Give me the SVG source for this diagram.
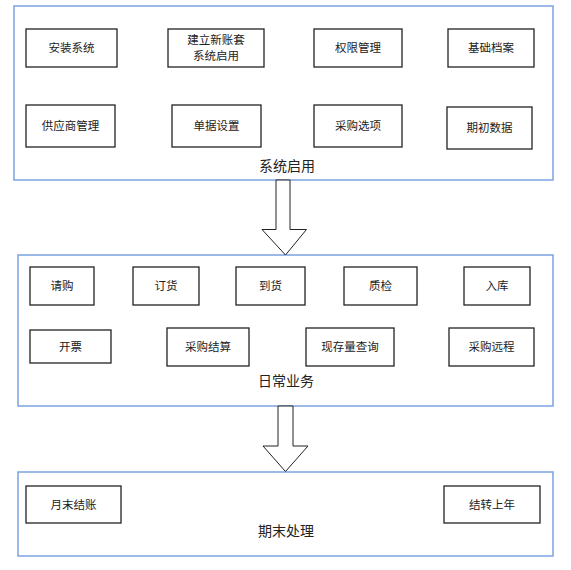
<svg xmlns="http://www.w3.org/2000/svg" width="571" height="570" viewBox="0 0 571 570">
<style>
.panel{fill:#fff;stroke:#7ba3e0;stroke-width:1.5}
.box{fill:#fff;stroke:#222;stroke-width:1.3}
.t{font-family:"Noto Sans CJK SC","Liberation Serif",sans-serif;font-size:11.5px;fill:#222;text-anchor:middle}
.lbl{font-family:"Noto Sans CJK SC","Liberation Serif",sans-serif;font-size:14px;fill:#222;text-anchor:middle}
.arrow{fill:#fff;stroke:#222;stroke-width:1}
</style>
<rect width="571" height="570" fill="#fff"/>
<g id="panel-startup">
<rect class="panel" x="14" y="6" width="539" height="174"/>
<text class="lbl" x="287" y="171">系统启用</text>
</g>
<g id="panel-daily">
<rect class="panel" x="18" y="255" width="535" height="151"/>
<text class="lbl" x="286" y="386">日常业务</text>
</g>
<g id="panel-end">
<rect class="panel" x="18" y="472" width="535" height="84"/>
<text class="lbl" x="286" y="536">期末处理</text>
</g>
<g id="connectors">
<polygon class="arrow" points="276,180 290,180 290,229.5 306.5,229.5 285.5,255 262,229.5 276,229.5"/>
<polygon class="arrow" points="278,406 293,406 293,446 308,446 285.5,471.5 263,446 278,446"/>
</g>
<g id="n-install"><rect class="box" x="26" y="29" width="91" height="38"/><text class="t" x="71.5" y="52">安装系统</text></g>
<g id="n-newacct"><rect class="box" x="168" y="29" width="96" height="38"/><text class="t" x="216" y="43.5">建立新账套</text><text class="t" x="216" y="59.5">系统启用</text></g>
<g id="n-perm"><rect class="box" x="314" y="29" width="88" height="38"/><text class="t" x="358" y="52">权限管理</text></g>
<g id="n-base"><rect class="box" x="448" y="29" width="86" height="38"/><text class="t" x="491" y="52">基础档案</text></g>
<g id="n-supplier"><rect class="box" x="26" y="105" width="89" height="42"/><text class="t" x="70.5" y="130">供应商管理</text></g>
<g id="n-doc"><rect class="box" x="172" y="105" width="89" height="42"/><text class="t" x="216.5" y="130">单据设置</text></g>
<g id="n-option"><rect class="box" x="314" y="105" width="88" height="42"/><text class="t" x="358" y="130">采购选项</text></g>
<g id="n-init"><rect class="box" x="447" y="107" width="85" height="42"/><text class="t" x="489.5" y="132">期初数据</text></g>
<g id="n-req"><rect class="box" x="30" y="267" width="64" height="38"/><text class="t" x="62" y="290">请购</text></g>
<g id="n-order"><rect class="box" x="133" y="267" width="66" height="38"/><text class="t" x="166" y="290">订货</text></g>
<g id="n-arrive"><rect class="box" x="236" y="267" width="69" height="38"/><text class="t" x="270.5" y="290">到货</text></g>
<g id="n-qc"><rect class="box" x="344" y="267" width="73" height="38"/><text class="t" x="380.5" y="290">质检</text></g>
<g id="n-stock"><rect class="box" x="464" y="267" width="66" height="38"/><text class="t" x="497" y="290">入库</text></g>
<g id="n-invoice"><rect class="box" x="30" y="330" width="81" height="33"/><text class="t" x="70.5" y="351">开票</text></g>
<g id="n-settle"><rect class="box" x="167" y="328" width="82" height="38"/><text class="t" x="208" y="351">采购结算</text></g>
<g id="n-query"><rect class="box" x="306" y="328" width="88" height="38"/><text class="t" x="350" y="351">现存量查询</text></g>
<g id="n-remote"><rect class="box" x="449" y="328" width="85" height="38"/><text class="t" x="491.5" y="351">采购远程</text></g>
<g id="n-monthend"><rect class="box" x="26" y="486" width="95" height="37"/><text class="t" x="73.5" y="509">月末结账</text></g>
<g id="n-carry"><rect class="box" x="444" y="486" width="96" height="37"/><text class="t" x="492" y="509">结转上年</text></g>
</svg>
